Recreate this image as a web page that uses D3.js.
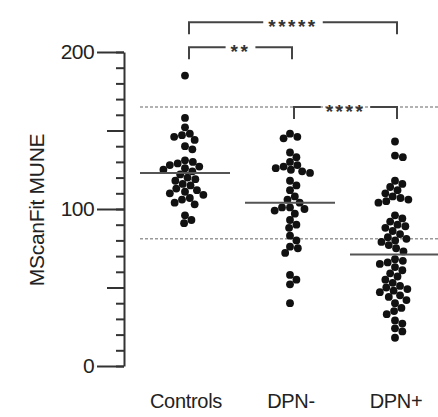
<!DOCTYPE html>
<html>
<head>
<meta charset="utf-8">
<script src="https://cdn.jsdelivr.net/npm/d3@7"></script>
<style>
  body { margin: 0; background: #fff; }
  svg { display: block; font-family: "Liberation Sans", Arial, sans-serif; }
</style>
</head>
<body>
<svg id="chart" width="438" height="417"></svg>
<script>
// groups and their values
const groups = ['Controls', 'DPN-', 'DPN+'];
const controls = [185, 158, 152, 148, 147, 146, 144, 140, 138, 131, 130, 129, 128, 127, 126, 125, 124, 122,
  120, 119, 118, 116, 115, 113, 112, 111, 110, 109, 107, 106, 104, 103, 96, 93, 91];
const dpnMinus = [148, 146, 145, 136, 133, 130, 128, 127, 126, 125, 124, 123, 118, 115, 112, 108, 106, 104,
  101, 101, 100, 99, 97, 93, 90, 88, 83, 80, 76, 75, 72, 58, 55, 52, 40];
const dpnPlus = [143, 134, 133, 118, 116, 114, 112, 110, 108, 107, 106, 105, 104, 96, 94, 92, 90, 89, 88, 86,
  84, 82, 81, 80, 79, 77, 75, 73, 68, 67, 66, 65, 63, 61, 59, 57, 55, 53, 51, 50, 49, 48, 47, 45, 44, 42,
  40, 37, 35, 33, 29, 27, 24, 22, 18];
const means = [123, 104, 71];
const refLines = [165, 81];            // dashed reference lines
const comparisons = [                  // [from, to, label, level]
  ['Controls', 'DPN+', '*****', 219],
  ['Controls', 'DPN-', '**', 203],
  ['DPN-', 'DPN+', '****', 165]
];
const yMajor = [0, 100, 200], yMid = [50, 150];
const yLabel = 'MScanFit MUNE';

const values = [controls, dpnMinus, dpnPlus];
const svg = d3.select('#chart');
const ink = '#222';

const x = d3.scaleBand().domain(groups).range([132.5, 447.5]);
const y = d3.scaleLinear().domain([0, 200]).range([366, 52]);
const cx = g => x(g) + x.bandwidth() / 2;

// --- y axis: minor, mid and major ticks
const axisX = 124;
svg.append('g')
  .attr('transform', `translate(${axisX},0)`)
  .call(d3.axisLeft(y).tickValues(d3.range(0, 201, 10)).tickSize(8).tickSizeOuter(0).tickFormat(''))
  .call(g => g.selectAll('line,path').attr('stroke', '#333').attr('stroke-width', 2));
svg.append('g')
  .attr('transform', `translate(${axisX},0)`)
  .call(d3.axisLeft(y).tickValues(yMid).tickSize(17).tickFormat(''))
  .call(g => g.select('.domain').remove())
  .call(g => g.selectAll('line').attr('stroke', '#333').attr('stroke-width', 2));
svg.append('g')
  .attr('transform', `translate(${axisX},0)`)
  .call(d3.axisLeft(y).tickValues(yMajor).tickSize(27).tickPadding(3))
  .call(g => g.select('.domain').remove())
  .call(g => g.selectAll('line').attr('stroke', '#333').attr('stroke-width', 2))
  .call(g => g.selectAll('text').attr('font-size', 21).attr('fill', ink)
    .attr('font-family', '"Liberation Sans", Arial, sans-serif').attr('letter-spacing', -0.6));

svg.append('text')
  .attr('transform', `translate(44,${(y(0) + y(200)) / 2 + 1}) rotate(-90)`)
  .attr('text-anchor', 'middle')
  .attr('font-size', 21).attr('letter-spacing', -0.3)
  .attr('fill', ink)
  .text(yLabel);

// --- x labels
svg.selectAll('.xlab').data(groups).enter().append('text')
  .attr('class', 'xlab')
  .attr('x', d => cx(d) + 1).attr('y', 408)
  .attr('text-anchor', 'middle')
  .attr('font-size', 20).attr('letter-spacing', -0.3)
  .attr('fill', ink)
  .text(d => d);

// --- dashed reference lines
svg.selectAll('.ref').data(refLines).enter().append('line')
  .attr('x1', 140).attr('x2', 438)
  .attr('y1', d => y(d)).attr('y2', d => y(d))
  .attr('stroke', '#999').attr('stroke-width', 1.5).attr('stroke-dasharray', '3,2');

// --- beeswarm dots
const r = 3.9;
function swarm(vals) {
  const placed = [];
  vals.slice().sort((a, b) => b - a).forEach(v => {
    const py = y(v);
    const near = placed.filter(p => Math.abs(p.y - py) < 2 * r);
    const cands = [0];
    near.forEach(p => {
      const dx = Math.sqrt(4 * r * r - (p.y - py) ** 2) + 0.2;
      cands.push(p.dx + dx, p.dx - dx);
    });
    cands.sort((a, b) => Math.abs(a) - Math.abs(b));
    const ok = cands.find(c => near.every(p => (p.dx - c) ** 2 + (p.y - py) ** 2 >= 4 * r * r - 0.01));
    placed.push({ v, y: py, dx: ok });
  });
  return placed;
}

groups.forEach((g, i) => {
  svg.append('g').selectAll('circle').data(swarm(values[i])).enter().append('circle')
    .attr('cx', d => cx(g) + d.dx)
    .attr('cy', d => d.y)
    .attr('r', r)
    .attr('fill', '#111');
});

// --- mean lines
svg.selectAll('.mean').data(groups).enter().append('line')
  .attr('x1', d => cx(d) - 45).attr('x2', d => cx(d) + 45)
  .attr('y1', (d, i) => y(means[i])).attr('y2', (d, i) => y(means[i]))
  .attr('stroke', '#555').attr('stroke-width', 2);

// --- significance brackets
comparisons.forEach(([a, b, label, lvl]) => {
  const x1 = cx(a) + 4, x2 = cx(b) + 2, yy = y(lvl), mid = (x1 + x2) / 2;
  const t = svg.append('text')
    .attr('x', mid).attr('y', yy + 11)
    .attr('text-anchor', 'middle')
    .attr('font-size', 19).attr('font-weight', 'bold').attr('letter-spacing', 2.5)
    .attr('fill', '#333')
    .text(label);
  const half = t.node().getComputedTextLength() / 2 + 5;
  const drop = 12;
  svg.append('path')
    .attr('d', `M${x1},${yy + drop}V${yy}H${mid - half}M${mid + half},${yy}H${x2}V${yy + drop}`)
    .attr('fill', 'none').attr('stroke', '#444').attr('stroke-width', 2);
});
</script>
</body>
</html>
